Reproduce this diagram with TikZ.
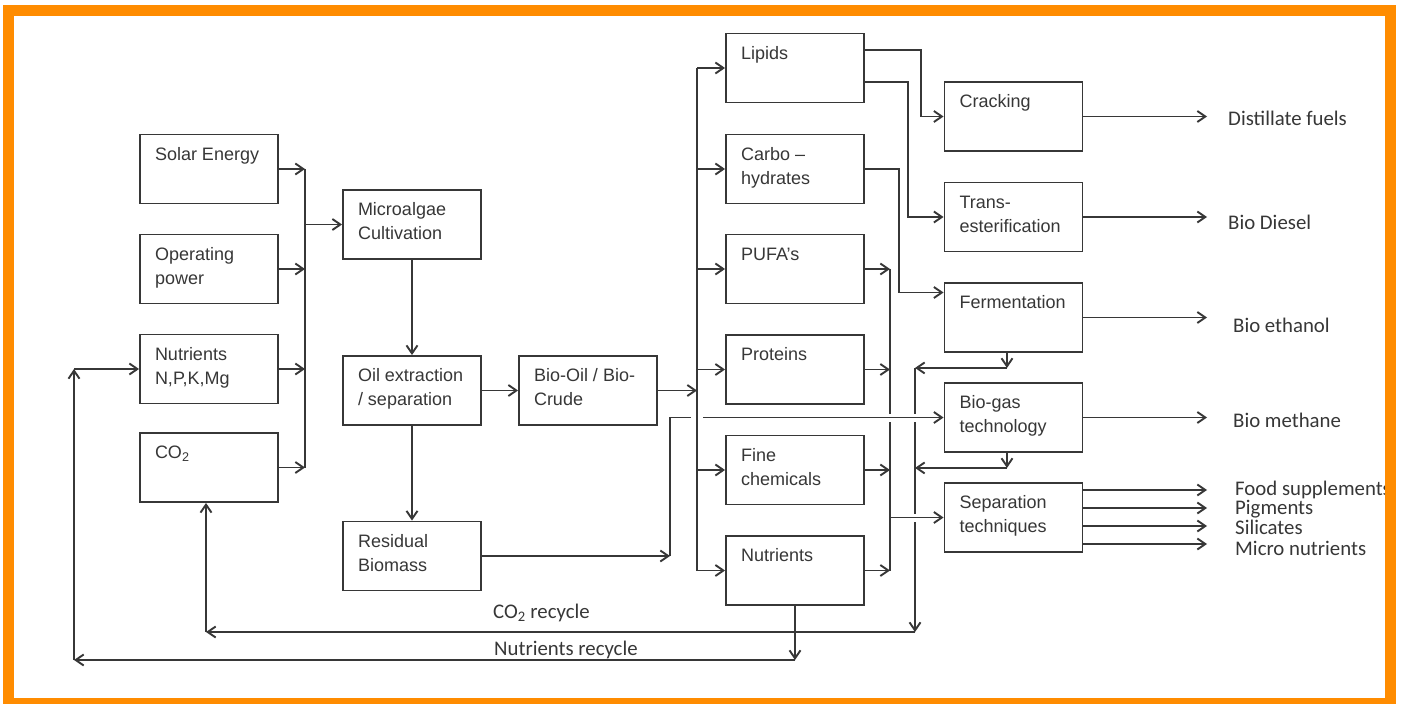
\documentclass[tikz,border=0pt]{standalone}
\usepackage{fontspec}
\setmainfont{Liberation Sans}
\newfontfamily\calib{Carlito}
\usetikzlibrary{arrows.meta,calc}
\definecolor{ln}{RGB}{55,55,55}
\definecolor{framec}{RGB}{255,140,0}
\newcommand\bt[1]{\parbox[c][51pt][t]{108pt}{\raggedright\strut #1}}
\begin{document}
\begin{tikzpicture}[x=1pt,y=-1pt,
  box/.style={draw=ln, line width=1.9pt, minimum width=138pt, minimum height=69pt, inner sep=0pt, text=ln, font=\fontsize{18}{24}\selectfont},
  arr/.style={draw=ln, line width=1.9pt, -{Straight Barb[length=8pt,width=11pt,line width=1.9pt]}},
  plain/.style={draw=ln, line width=1.9pt},
  halo/.style={preaction={draw=white,line width=#1,arrows=-,shorten <=4pt,shorten >=4pt}},
  halo/.default=8pt,
  outlbl/.style={anchor=base west, inner sep=0pt, text=ln, font=\calib\fontsize{20.8}{20.8}\selectfont},
]
\useasboundingbox (0,0) rectangle (1403,704);
\fill[white] (0,0) rectangle (1403,704);

% left column
\node[box] (solar) at (209,169) {\bt{Solar Energy}};
\node[box] (oppow) at (209,269) {\bt{Operating\\power}};
\node[box] (nutin) at (209,369) {\bt{Nutrients\\N,P,K,Mg}};
\node[box] (co2)   at (209,467.5) {\bt{CO\textsubscript{2}}};
% second column
\node[box] (micro) at (412,224.5) {\bt{Microalgae\\Cultivation}};
\node[box] (oil)   at (412,390.5) {\bt{Oil extraction\\/ separation}};
\node[box] (resid) at (412,556) {\bt{Residual\\Biomass}};
\node[box] (biooil) at (588,390.5) {\bt{Bio-Oil / Bio-\\Crude}};
% products column
\node[box] (lipids) at (795,68) {\bt{Lipids}};
\node[box] (carbo)  at (795,169) {\bt{Carbo --\\hydrates}};
\node[box] (pufa)   at (795,269) {\bt{PUFA’s}};
\node[box] (prot)   at (795,369.5) {\bt{Proteins}};
\node[box] (fine)   at (795,470) {\bt{Fine\\chemicals}};
\node[box] (nutout) at (795,570.5) {\bt{Nutrients}};
% process column
\node[box] (crack)  at (1013.5,116.5) {\bt{Cracking}};
\node[box] (trans)  at (1013.5,217) {\bt{Trans-\\esterification}};
\node[box] (ferm)   at (1013.5,317.5) {\bt{Fermentation}};
\node[box] (biogas) at (1013.5,417.5) {\bt{Bio-gas\\technology}};
\node[box] (sep)    at (1013.5,517.5) {\bt{Separation\\techniques}};

% inputs to cultivation
\coordinate (bL) at (305,0);
\foreach \n in {solar,oppow,nutin,co2} \draw[arr] (\n.east) -- (\n.east -| bL);
\draw[plain] (solar.east -| bL) -- (co2.east -| bL);
\draw[arr] (micro.west -| bL) -- (micro.west);

\draw[arr] (micro.south) -- (oil.north);
\draw[arr] (oil.south) -- (resid.north);
\draw[arr] (oil.east) -- (biooil.west);

% middle bus
\coordinate (bM) at (697,0);
\draw[arr] (biooil.east) -- (biooil.east -| bM);
\foreach \n in {lipids,carbo,pufa,prot,fine,nutout} \draw[arr] (\n.west -| bM) -- (\n.west);
\draw[plain] (lipids.west -| bM) -- (nutout.west -| bM);

% right bus
\coordinate (bR) at (890,0);
\foreach \n in {pufa,prot,fine,nutout} \draw[arr] (\n.east) -- (\n.east -| bR);
\draw[plain] (pufa.east -| bR) -- (nutout.east -| bR);

% routes from lipids / carbohydrates
\draw[arr] ([yshift=18pt]lipids.east) -- ++(56,0) |- (crack.west);
\draw[arr] ([yshift=-14pt]lipids.east) -- ++(43,0) |- (trans.west);
\draw[arr] (carbo.east) -- ++(34,0) |- ([yshift=25pt]ferm.west);

% returns from fermentation / biogas, CO2 recycle
\coordinate (bC) at (915,0);
\coordinate (rc) at (206,632);
\coordinate (fA) at ($(ferm.south)+(-6.5,15)$);
\coordinate (gA) at ($(biogas.south)+(-6.5,15)$);
\draw[arr] ([xshift=-6.5pt]ferm.south) -- (fA);
\draw[arr] ([xshift=-6.5pt]biogas.south) -- (gA);
\draw[arr] (fA) -- (fA -| bC);
\draw[arr] (gA) -- (gA -| bC);
\draw[arr] (fA -| bC) -- (bC |- rc);
\draw[arr] (bC |- rc) -- (rc);
\draw[arr] (rc) -- (rc |- co2.south);

% residual biomass to biogas
\coordinate (jR) at (670,0);
\draw[arr] (resid.east) -- (resid.east -| jR);
\draw[arr, halo=8pt] (resid.east -| jR) -- (jR |- biogas.west) -- (biogas.west);
\draw[plain, preaction={draw=white,line width=12pt}] ($(bM |- biogas.west)+(0,-9)$) -- ($(bM |- biogas.west)+(0,9)$);

% to separation
\draw[arr, halo=8pt] (sep.west -| bR) -- (sep.west);

% nutrients recycle
\coordinate (rn) at (74,660);
\draw[arr] (nutout.south) -- (nutout.south |- rn);
\draw[arr] (nutout.south |- rn) -- (rn);
\draw[arr] (rn) -- (rn |- nutin.west);
\draw[arr] (rn |- nutin.west) -- (nutin.west);

\node[outlbl] (lco2) at (493,618) {CO\textsubscript{2} recycle};
\node[outlbl] (lnut) at (494,655) {Nutrients recycle};

% outputs
\coordinate (oX) at (1207,0);
\foreach \n in {crack,trans,ferm,biogas} \draw[arr] (\n.east) -- (\n.east -| oX);
\foreach \s in {-27.5,-9.5,8.5,26.5} \draw[arr] ($(sep.east)+(0,\s)$) -- ($(sep.east -| oX)+(0,\s)$);

\node[outlbl] (o1) at (1228,125) {Distillate fuels};
\node[outlbl] (o2) at (1228,229) {Bio Diesel};
\node[outlbl] (o3) at (1233,332) {Bio ethanol};
\node[outlbl] (o4) at (1233,427) {Bio methane};
\node[outlbl] (o5) at (1235,495) {Food supplements};
\node[outlbl] (o6) at (1235,514) {Pigments};
\node[outlbl] (o7) at (1235,534) {Silicates};
\node[outlbl] (o8) at (1235,555) {Micro nutrients};

% frame
\draw[framec, line width=11pt] (8.5,10.5) rectangle (1390.5,703.5);
\end{tikzpicture}
\end{document}
